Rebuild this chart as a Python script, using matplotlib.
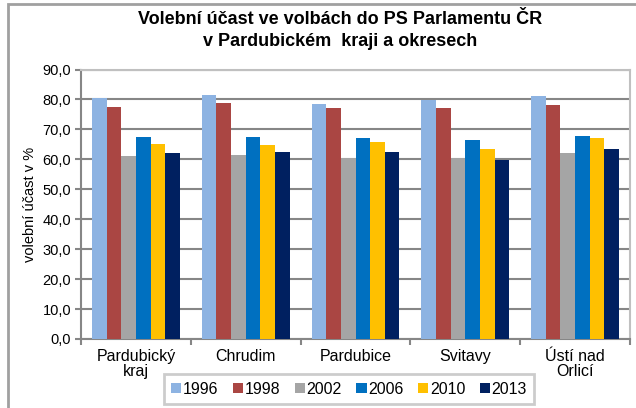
import matplotlib
matplotlib.use("Agg")
import matplotlib.pyplot as plt
import numpy as np
from matplotlib.patches import Rectangle
from matplotlib.ticker import FixedLocator

plt.rcParams['font.family'] = ['Liberation Sans', 'DejaVu Sans']

categories = ["Pardubický\nkraj", "Chrudim", "Pardubice", "Svitavy", "Ústí nad\nOrlicí"]
years = ["1996", "1998", "2002", "2006", "2010", "2013"]
v1996 = [80.5, 81.6, 78.5, 79.8, 81.3]
v1998 = [77.6, 78.9, 77.0, 77.0, 78.0]
v2002 = [61.0, 61.5, 60.6, 60.3, 62.1]
v2006 = [67.4, 67.4, 67.0, 66.6, 67.9]
v2010 = [65.2, 64.8, 65.7, 63.3, 67.0]
v2013 = [62.1, 62.5, 62.5, 59.9, 63.3]
series = [v1996, v1998, v2002, v2006, v2010, v2013]
colors = ["#8DB3E2", "#AA4643", "#A5A5A5", "#0070C0", "#FFC000", "#002060"]
yticks = [0, 10, 20, 30, 40, 50, 60, 70, 80, 90]

fig = plt.figure(figsize=(6.36, 4.08), dpi=100)
ax = fig.add_axes([81/636, 1 - 339/408, (630 - 81)/636, (339 - 69.5)/408])

n = len(series)
group_w = 0.8
bw = group_w / n
x = np.arange(len(categories))
for i, (vals, c, y) in enumerate(zip(series, colors, years)):
    ax.bar(x - group_w/2 + bw*(i + 0.5), vals, width=bw, color=c, label=y, zorder=3)

ax.set_xlim(-0.5, len(categories) - 0.5)
ax.set_ylim(0, 90)
ax.set_yticks(yticks)
ax.set_yticklabels([f"{v:.1f}".replace(".", ",") for v in yticks], fontsize=10.5)
ax.set_xticks(x)
ax.set_xticklabels(categories, fontsize=11.5, linespacing=1.0)
ax.tick_params(axis='x', which='major', length=0, pad=7)
ax.xaxis.set_minor_locator(FixedLocator(np.arange(-0.5, len(categories), 1.0)))
ax.tick_params(axis='x', which='minor', length=4, width=1.5, color='#868686', direction='out')
ax.tick_params(axis='y', length=4, width=1.5, color='#868686', direction='out', pad=3)

ax.grid(axis='y', color='#868686', linewidth=1.5, zorder=0)
ax.set_axisbelow(True)
for s in ['left', 'bottom']:
    ax.spines[s].set_color('#868686')
    ax.spines[s].set_linewidth(1.5)
for s in ['top', 'right']:
    ax.spines[s].set_color('#C0C0C0')
    ax.spines[s].set_linewidth(1.5)

ax.set_ylabel("volební účast v %", fontsize=10.5, labelpad=4)

fig.text(340/636, 1 - 20/408, "Volební účast ve volbách do PS Parlamentu ČR", ha='center', va='center',
         fontsize=13, fontweight='bold')
fig.text(340/636, 1 - 41/408, "v Pardubickém  kraji a okresech", ha='center', va='center',
         fontsize=13, fontweight='bold')

leg = fig.legend(loc='center', bbox_to_anchor=(349/636, 1 - 389/408), ncol=6, fontsize=11.5,
                 frameon=True, fancybox=False, handlelength=0.65, handleheight=0.65,
                 handletextpad=0.1, columnspacing=0.9, borderpad=0.45)
leg.get_frame().set_edgecolor('#C0C0C0')
leg.get_frame().set_linewidth(2)

fig.patches.append(Rectangle((8/636, -0.1), 2.0, 1.1 - 4/408, transform=fig.transFigure,
                             fill=False, edgecolor='#A0A0A0', linewidth=2))

fig.savefig("out.png", dpi=100)
